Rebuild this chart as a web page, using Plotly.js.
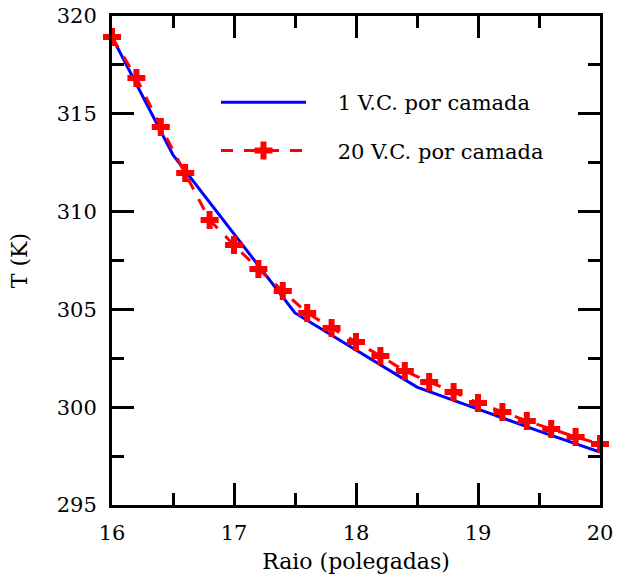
<!DOCTYPE html>
<html>
<head>
<meta charset="utf-8">
<script src="https://cdn.plot.ly/plotly-3.0.1.min.js"></script>
<style>html,body{margin:0;padding:0;background:#fff;}#chart{width:617px;height:580px;}</style>
</head>
<body>
<div id="chart"></div>
<script>
// Data
const radius1 = [16, 16.5, 17.5, 18.5, 19, 19.5, 20];
const temp1 = [318.93, 312.9, 304.82, 301.03, 299.9, 298.78, 297.71];

const radius20 = [16, 16.2, 16.4, 16.6, 16.8, 17, 17.2, 17.4, 17.6, 17.8, 18, 18.2, 18.4, 18.6, 18.8, 19, 19.2, 19.4, 19.6, 19.8, 20];
const temp20 = [318.93, 316.83, 314.33, 311.97, 309.57, 308.29, 307.07, 305.94, 304.82, 304.05, 303.33, 302.62, 301.85, 301.29, 300.78, 300.22, 299.76, 299.30, 298.89, 298.48, 298.12];

const seriesNames = ['1 V.C. por camada', '20 V.C. por camada'];
const xTitle = 'Raio (polegadas)';
const yTitle = 'T (K)';

const FONT = '"DejaVu Serif", serif';
const PAD = '\u00a0\u00a0\u00a0\u00a0';

const traces = [
  {
    x: radius1, y: temp1, name: PAD + seriesNames[0], type: 'scatter', mode: 'lines',
    line: {color: '#0000ff', width: 3}, cliponaxis: false, legendgroup: 'a'
  },
  {
    x: radius20, y: temp20, name: PAD + seriesNames[1], type: 'scatter', mode: 'lines+markers',
    line: {color: '#ff0000', width: 3, dash: '12px,11px'},
    marker: {symbol: 'cross', size: 15, color: '#ff0000', line: {width: 0}},
    cliponaxis: false, legendgroup: 'b'
  }
];

const axisCommon = {
  showgrid: false, zeroline: false, showline: true, linecolor: '#000', linewidth: 3,
  mirror: 'ticks', ticks: 'inside', ticklen: 22, tickwidth: 3, tickcolor: '#000',
  tickfont: {family: FONT, size: 21, color: '#000'}
};

const layout = {
  width: 617, height: 580,
  margin: {l: 112, r: 17, t: 16, b: 75},
  paper_bgcolor: '#fff', plot_bgcolor: '#fff',
  font: {family: FONT, color: '#000'},
  showlegend: true,
  legend: {
    x: (216 - 112) / 488, y: (505 - 82) / 489, xanchor: 'left', yanchor: 'top',
    bgcolor: 'rgba(0,0,0,0)', borderwidth: 0,
    font: {family: FONT, size: 21, color: '#000'},
    itemwidth: 85, traceorder: 'grouped', tracegroupgap: 18
  },
  xaxis: Object.assign({}, axisCommon, {
    range: [16, 20], dtick: 1, tick0: 16,
    ticklabelstandoff: 7,
    minor: {dtick: 0.5, ticks: 'inside', ticklen: 12, tickwidth: 3, tickcolor: '#000'},
    title: {text: xTitle, font: {family: FONT, size: 22, color: '#000'}, standoff: 10}
  }),
  yaxis: Object.assign({}, axisCommon, {
    range: [295, 320], dtick: 5, tick0: 295,
    ticklabelstandoff: 8,
    minor: {dtick: 2.5, ticks: 'inside', ticklen: 12, tickwidth: 3, tickcolor: '#000'},
    title: {text: yTitle, font: {family: FONT, size: 22, color: '#000'}, standoff: 24}
  })
};

Plotly.newPlot('chart', traces, layout, {displayModeBar: false, staticPlot: true});
</script>
</body>
</html>
